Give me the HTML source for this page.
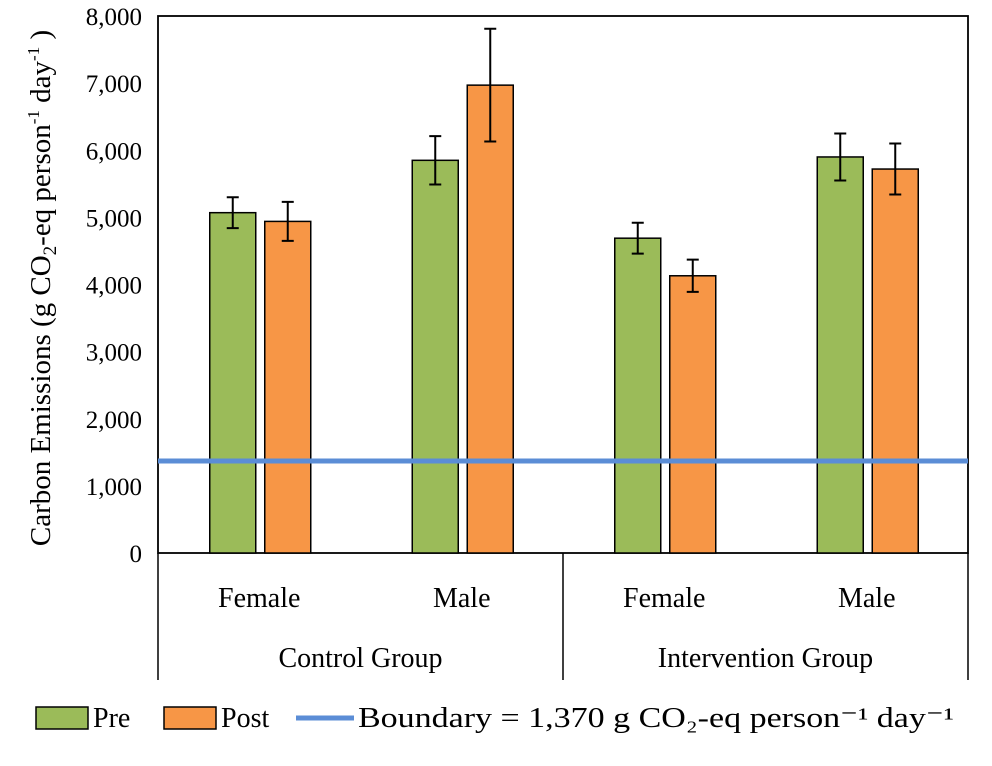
<!DOCTYPE html>
<html><head><meta charset="utf-8"><style>
body{margin:0;background:#fff;}
svg{font-family:"Liberation Serif",serif;}
</style></head><body>
<svg width="992" height="761" viewBox="0 0 992 761">
<g id="g"></g>
</svg>
<script>
const categories=["Female","Male","Female","Male"];
const groups=["Control Group","Intervention Group"];
const preValues=[5070,5850,4690,5900];
const preErr=[230,360,230,350];
const postValues=[4940,6970,4130,5720];
const postErr=[290,840,240,380];
const yTicks=[0,1000,2000,3000,4000,5000,6000,7000,8000];
const yTickLabels=["0","1,000","2,000","3,000","4,000","5,000","6,000","7,000","8,000"];
const boundary=1370;

const NS="http://www.w3.org/2000/svg";
const g=document.getElementById('g');
const L=158,R=968,T=16,B=553;
const y=v=>B-(v/8000)*(B-T);
const cw=(R-L)/categories.length;
const cx=i=>L+cw*(i+0.5);
function mk(t,a,txt){const e=document.createElementNS(NS,t);for(const k in a)e.setAttribute(k,a[k]);if(txt!==undefined)e.textContent=txt;g.appendChild(e);return e;}

let fr=mk('rect',{x:L,y:T,width:R-L,height:B-T,fill:'none',stroke:'#000','stroke-width':1.8});


[L,(L+R)/2,R].forEach((xx,i)=>{
 let l=mk('line',{x1:xx,y1:B,x2:xx,y2:680,stroke:'#000','stroke-width':1.5});
 
 
});
yTicks.forEach((v,i)=>{
 let t=mk('text',{x:L-16,y:y(v)+9,'text-anchor':'end','font-size':25,fill:'#000'},yTickLabels[i]);
 
 
});
const bw=46,gap=9;
function bar(i,v,er,off,col,name){
 const x0=cx(i)+off;
 let r=mk('rect',{x:x0,y:y(v),width:bw,height:B-y(v),fill:col,stroke:'#000','stroke-width':1.5});
 
 
 const mx=x0+bw/2;
 let p=mk('path',{d:`M${mx},${y(v+er)}V${y(v-er)}M${mx-6},${y(v+er)}H${mx+6}M${mx-6},${y(v-er)}H${mx+6}`,stroke:'#000','stroke-width':2,fill:'none'});
 
 
}
categories.forEach((c,i)=>{
 bar(i,preValues[i],preErr[i],-bw-gap/2+1,'#9bbb59','bar-pre');
 bar(i,postValues[i],postErr[i],gap/2+1,'#f79646','bar-post');
 let t=mk('text',{x:cx(i),y:607,'text-anchor':'middle','font-size':28},c);
 
 
});
groups.forEach((gr,i)=>{
 let t=mk('text',{x:L+(R-L)/4*(2*i+1),y:667,'text-anchor':'middle','font-size':28},gr);
 
 
});
let bl=mk('line',{x1:L,x2:R,y1:y(boundary),y2:y(boundary),stroke:'#5b8dd6','stroke-width':5});


let yt=mk('text',{transform:'translate(50,288) rotate(-90)','text-anchor':'middle','font-size':29},'');
yt.innerHTML='Carbon Emissions (g CO<tspan dy="6" font-size="19">2</tspan><tspan dy="-6">-eq person</tspan><tspan dy="-11" font-size="17">-1</tspan><tspan dy="11"> day</tspan><tspan dy="-11" font-size="17">-1</tspan><tspan dy="11"> )</tspan>';


let r1=mk('rect',{x:36,y:707,width:52,height:22,fill:'#9bbb59',stroke:'#000','stroke-width':1.5});


let t1=mk('text',{x:93,y:727,'font-size':28},'Pre');


let r2=mk('rect',{x:164,y:707,width:52,height:22,fill:'#f79646',stroke:'#000','stroke-width':1.5});


let t2=mk('text',{x:221,y:727,'font-size':28},'Post');


let l3=mk('line',{x1:296,x2:354,y1:718,y2:718,stroke:'#5b8dd6','stroke-width':5});


let t3=mk('text',{x:358,y:727,'font-size':28,textLength:596,lengthAdjust:'spacingAndGlyphs'},'Boundary = 1,370 g CO₂-eq person⁻¹ day⁻¹');


</script>
</body></html>
